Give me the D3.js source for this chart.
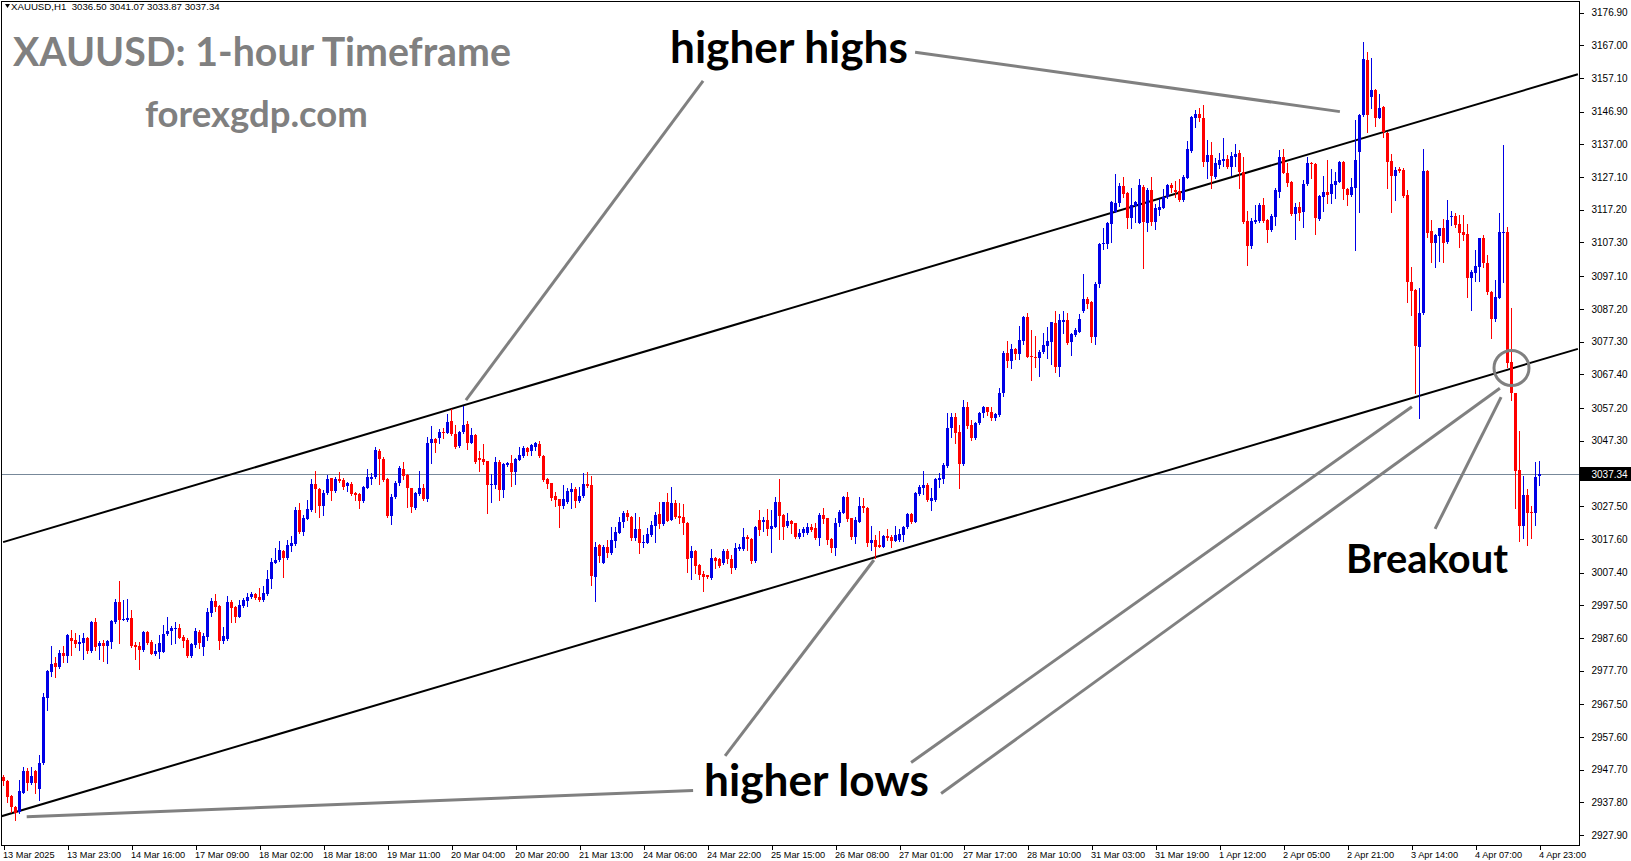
<!DOCTYPE html>
<html><head><meta charset="utf-8">
<script src="https://cdn.jsdelivr.net/npm/d3@7"></script>
<style>html,body{margin:0;padding:0;background:#fff;overflow:hidden}</style>
</head><body>
<svg id="chart" width="1631" height="861"></svg>
<script>
// ---------------- DATA ----------------
const opens = [
2945.4,2944.4,2939.8,2936.3,2935.0,2940.8,2947.3,2943.6,2947.3,2941.9,
2949.9,2969.5,2977.4,2980.0,2978.8,2983.0,2982.2,2987.6,2987.0,2985.9,
2986.2,2987.5,2983.5,2992.4,2985.3,2986.1,2985.2,2986.5,2992.3,2998.5,
2993.0,2993.0,2993.5,2985.5,2985.1,2984.0,2989.4,2986.4,2982.8,2983.3,
2983.4,2988.7,2989.7,2990.4,2990.6,2987.9,2987.1,2982.1,2985.6,2989.4,
2984.9,2988.0,2995.2,2998.8,2997.4,2986.8,2987.3,2998.4,2997.1,2994.0,
2997.4,2998.9,3000.0,3000.9,3000.1,2999.1,3000.9,3005.3,3010.4,3011.2,
3013.9,3011.7,3015.4,3016.0,3026.3,3019.8,3023.5,3026.3,3034.2,3032.7,
3027.5,3031.4,3035.9,3032.1,3035.7,3035.4,3033.6,3034.2,3031.6,3031.2,
3029.0,3033.1,3035.8,3036.2,3044.3,3041.9,3035.7,3024.5,3030.2,3034.4,
3038.7,3036.9,3032.9,3026.8,3031.2,3032.9,3029.6,3046.7,3047.8,3048.0,
3050.0,3049.7,3053.3,3049.2,3045.7,3049.8,3052.3,3046.7,3049.0,3042.2,
3041.8,3041.1,3033.9,3033.9,3040.9,3032.4,3039.9,3040.6,3037.7,3041.6,
3042.7,3045.0,3044.3,3045.5,3046.2,3042.7,3035.7,3034.4,3030.6,3029.6,
3027.5,3028.8,3031.9,3032.7,3029.0,3030.6,3034.1,3033.9,3006.1,3015.7,
3010.4,3015.0,3013.4,3017.0,3019.5,3022.7,3025.5,3024.3,3017.7,3020.6,
3016.2,3016.4,3018.8,3021.6,3025.1,3022.1,3028.7,3023.3,3028.3,3024.5,
3024.3,3022.5,3011.9,3014.0,3009.7,3006.9,3006.6,3005.7,3011.9,3011.5,
3010.2,3014.0,3011.6,3008.7,3014.4,3014.4,3018.2,3017.6,3011.0,3023.3,
3022.8,3023.3,3020.6,3021.3,3028.8,3024.8,3021.6,3023.0,3022.3,3018.3,
3019.4,3019.3,3021.3,3020.8,3017.8,3024.8,3023.8,3017.5,3014.9,3022.3,
3025.5,3030.3,3023.8,3018.1,3022.8,3027.5,3027.0,3016.4,3017.2,3015.7,
3015.2,3018.5,3018.3,3017.0,3017.2,3018.8,3021.1,3025.1,3022.8,3031.2,
3033.1,3033.9,3029.1,3029.3,3035.4,3035.8,3039.6,3051.0,3054.4,3049.8,
3040.2,3057.4,3052.1,3048.0,3052.6,3055.6,3057.4,3056.1,3054.1,3055.1,
3061.6,3073.9,3071.5,3075.1,3073.5,3077.6,3084.8,3072.9,3072.5,3072.3,
3074.0,3076.1,3077.3,3082.8,3069.7,3083.3,3083.8,3077.1,3079.3,3080.3,
3086.5,3090.2,3089.4,3078.8,3094.6,3106.7,3106.7,3113.0,3116.6,3119.1,
3124.4,3122.4,3114.8,3118.4,3113.3,3124.2,3113.3,3123.2,3113.6,3117.1,
3117.8,3121.2,3124.7,3123.2,3122.9,3120.2,3126.9,3135.0,3144.9,3146.2,
3144.9,3131.8,3133.8,3127.2,3130.7,3131.9,3132.6,3130.2,3133.3,3134.5,
3128.7,3113.8,3106.3,3113.6,3113.8,3118.6,3114.1,3111.1,3115.1,3122.7,
3133.1,3128.4,3125.7,3115.9,3117.9,3116.6,3125.0,3131.4,3131.0,3114.4,
3121.2,3122.5,3122.0,3124.7,3125.7,3131.8,3123.5,3121.7,3123.9,3134.8,
3145.9,3162.5,3151.4,3153.4,3145.1,3148.4,3140.5,3132.0,3127.5,3129.4,
3129.2,3121.7,3095.4,3092.9,3075.8,3085.8,3129.0,3110.8,3107.2,3109.3,
3111.6,3107.5,3114.9,3115.3,3112.9,3110.6,3109.9,3096.6,3098.2,3099.8,
3108.8,3101.0,3092.4,3084.0,3090.6,3110.1,3110.6,3071.2,3061.6,3038.4,
3021.5,3030.9,3025.8,3025.3,3036.50];
const highs = [
2946.1,2944.6,2940.0,2936.7,2944.6,2948.6,2948.2,2948.6,2947.6,2952.2,
2970.8,2977.9,2985.2,2981.7,2983.9,2985.2,2988.8,2990.0,2989.2,2988.6,
2989.2,2988.0,2992.8,2993.5,2986.8,2987.0,2987.0,2993.0,2999.3,3004.8,
2999.1,2999.3,2996.1,2986.5,2986.5,2989.8,2989.7,2986.9,2985.8,2988.5,
2991.5,2993.8,2991.2,2992.5,2991.8,2988.4,2987.5,2986.2,2990.5,2990.0,
2989.0,2996.6,2999.6,3000.9,2997.6,2991.0,3000.3,2999.1,2997.3,2999.1,
2999.6,3001.1,3001.6,3001.3,3002.6,3003.3,3008.2,3011.7,3014.7,3016.9,
3014.2,3017.2,3018.4,3027.3,3028.5,3024.8,3029.3,3035.8,3038.1,3033.1,
3032.4,3036.8,3036.1,3036.2,3037.7,3035.9,3034.7,3034.7,3031.8,3031.4,
3033.6,3038.6,3037.6,3045.5,3044.7,3042.5,3035.9,3031.2,3035.0,3039.5,
3040.9,3037.1,3033.1,3031.7,3038.1,3034.1,3048.5,3051.7,3048.0,3050.7,
3051.0,3055.4,3056.8,3052.0,3050.2,3057.8,3053.3,3051.2,3049.2,3044.2,
3046.2,3041.3,3037.1,3042.5,3041.5,3040.6,3040.9,3043.0,3042.0,3045.3,
3045.8,3045.5,3046.3,3047.0,3047.2,3042.9,3036.0,3034.6,3031.9,3029.8,
3033.9,3032.9,3034.4,3033.4,3033.4,3037.4,3037.9,3036.7,3016.7,3016.0,
3015.7,3017.3,3021.3,3021.3,3024.3,3026.1,3026.3,3024.5,3025.3,3024.3,
3018.8,3020.8,3023.1,3025.8,3028.8,3028.8,3031.4,3033.4,3029.4,3028.3,
3028.1,3022.6,3015.4,3014.2,3009.9,3007.9,3006.8,3014.4,3012.2,3011.7,
3014.4,3014.6,3012.7,3016.2,3016.0,3020.8,3018.8,3017.9,3021.5,3026.3,
3024.3,3026.5,3026.3,3030.4,3035.7,3025.0,3025.3,3023.3,3022.5,3020.5,
3021.1,3022.3,3022.0,3022.3,3025.5,3026.8,3024.0,3017.7,3023.8,3026.3,
3030.6,3031.9,3024.0,3024.3,3030.2,3029.9,3027.2,3021.5,3018.8,3020.0,
3018.8,3020.5,3018.8,3021.5,3020.5,3021.5,3025.5,3025.5,3031.9,3033.9,
3038.1,3034.4,3032.9,3035.9,3037.6,3040.6,3055.6,3055.6,3055.6,3052.0,
3059.6,3059.1,3053.6,3053.1,3056.1,3057.8,3057.6,3057.6,3055.8,3063.2,
3074.3,3077.5,3076.5,3075.3,3082.1,3085.1,3085.9,3080.8,3079.1,3074.7,
3079.8,3081.8,3083.3,3086.5,3085.5,3086.5,3085.9,3079.8,3081.3,3085.6,
3097.8,3090.9,3089.6,3095.4,3107.2,3111.6,3113.6,3119.9,3128.0,3125.2,
3127.2,3122.7,3123.7,3119.9,3126.5,3124.7,3123.7,3127.2,3118.8,3120.6,
3123.5,3125.0,3125.2,3125.9,3126.5,3127.7,3138.0,3145.7,3147.4,3147.9,
3148.9,3138.3,3137.8,3132.8,3134.3,3139.0,3133.8,3134.8,3137.2,3135.3,
3133.3,3116.8,3114.8,3118.6,3119.1,3120.7,3114.3,3115.8,3123.7,3135.3,
3135.6,3131.3,3126.0,3119.1,3119.4,3126.2,3133.3,3131.8,3131.2,3121.7,
3127.5,3132.3,3129.5,3128.5,3132.0,3132.0,3123.7,3126.9,3144.4,3146.1,
3167.9,3165.0,3163.0,3153.6,3152.1,3148.6,3140.7,3134.1,3130.2,3130.2,
3129.8,3123.2,3100.0,3093.1,3093.4,3135.6,3129.2,3114.1,3109.9,3111.8,
3114.3,3120.0,3116.9,3116.3,3115.6,3115.6,3112.9,3099.0,3105.0,3108.8,
3109.6,3103.5,3092.6,3095.9,3116.3,3136.8,3112.1,3087.4,3061.8,3050.2,
3036.6,3032.6,3027.5,3040.9,3041.07];
const lows = [
2943.1,2937.8,2935.0,2932.5,2934.7,2940.6,2941.6,2943.4,2940.8,2938.6,
2949.6,2965.8,2976.1,2975.9,2978.6,2980.4,2980.4,2982.4,2984.8,2983.9,
2981.2,2983.1,2983.2,2983.9,2981.1,2980.7,2980.1,2984.7,2992.0,2986.2,
2992.9,2992.8,2985.0,2981.3,2978.1,2983.7,2985.8,2982.6,2982.3,2981.4,
2983.2,2988.5,2985.8,2986.0,2987.5,2985.0,2981.9,2981.9,2985.0,2984.5,
2982.4,2987.0,2994.2,2995.8,2984.3,2986.0,2987.0,2992.5,2992.5,2993.8,
2997.1,2997.3,2999.6,2999.3,2998.9,2998.9,3000.7,3002.6,3010.2,3011.0,
3005.9,3011.5,3014.0,3015.7,3019.3,3018.8,3023.5,3026.1,3025.8,3024.3,
3024.8,3031.2,3029.3,3031.9,3034.9,3032.7,3032.2,3030.9,3029.3,3027.0,
3028.8,3032.9,3034.1,3035.9,3034.1,3035.2,3024.1,3022.1,3030.0,3034.0,
3035.7,3027.2,3025.6,3026.5,3030.9,3029.3,3029.0,3040.6,3044.0,3046.7,
3048.2,3049.5,3049.0,3045.0,3045.5,3049.5,3044.7,3046.5,3040.6,3038.1,
3040.2,3025.3,3028.8,3032.9,3029.3,3030.4,3039.7,3033.7,3034.1,3041.5,
3042.5,3043.0,3043.0,3044.5,3042.5,3035.1,3033.1,3029.3,3027.6,3021.3,
3026.8,3028.3,3026.8,3027.3,3028.8,3030.4,3033.4,3003.6,2998.8,3010.5,
3010.2,3012.2,3013.0,3015.0,3019.3,3021.3,3023.3,3017.3,3017.3,3013.4,
3015.0,3016.2,3018.5,3016.7,3020.8,3021.8,3023.0,3023.2,3024.0,3022.3,
3019.1,3007.7,3005.3,3007.4,3005.4,3001.9,3005.6,3005.3,3008.7,3009.0,
3010.0,3010.2,3007.2,3008.4,3014.2,3014.2,3014.2,3010.2,3010.7,3018.8,
3020.1,3018.8,3013.7,3021.1,3017.5,3017.5,3021.3,3019.3,3017.8,3018.0,
3018.5,3019.1,3020.1,3017.5,3015.7,3022.3,3016.0,3013.7,3012.7,3021.5,
3025.3,3023.1,3017.5,3016.2,3022.6,3025.8,3015.4,3014.2,3011.9,3015.0,
3015.0,3017.2,3015.2,3016.8,3017.0,3017.0,3020.9,3022.5,3022.6,3030.9,
3031.2,3029.1,3026.3,3029.1,3033.4,3034.4,3039.4,3048.5,3046.7,3033.1,
3039.9,3051.0,3047.5,3047.7,3052.4,3054.6,3055.1,3053.6,3053.6,3054.9,
3060.8,3069.7,3069.4,3072.0,3072.0,3076.5,3072.5,3065.7,3069.7,3067.0,
3073.7,3072.2,3070.5,3068.0,3067.0,3079.8,3076.5,3073.2,3079.1,3080.1,
3086.3,3087.6,3077.3,3076.5,3093.9,3105.3,3105.7,3107.3,3116.4,3118.4,
3121.2,3111.8,3111.8,3113.4,3113.1,3099.7,3110.8,3112.6,3111.4,3115.6,
3117.6,3120.9,3122.7,3121.2,3119.9,3119.9,3126.7,3134.8,3142.3,3144.0,
3130.3,3126.7,3123.9,3126.7,3129.9,3130.4,3129.9,3127.7,3130.5,3123.7,
3113.1,3100.5,3105.5,3113.1,3113.6,3113.6,3107.5,3110.8,3112.6,3121.2,
3128.2,3124.5,3115.6,3108.3,3114.1,3112.1,3124.7,3126.9,3109.9,3114.1,
3116.8,3119.1,3119.1,3120.7,3125.5,3120.5,3118.6,3121.5,3105.0,3116.6,
3145.7,3140.6,3148.1,3142.4,3144.9,3139.3,3123.9,3116.4,3120.2,3128.5,
3121.2,3089.4,3085.3,3061.8,3054.1,3085.6,3109.1,3101.5,3099.8,3101.8,
3101.5,3107.0,3112.6,3111.9,3105.8,3108.1,3090.9,3086.9,3095.7,3095.7,
3100.0,3091.7,3078.3,3083.6,3090.4,3095.4,3069.7,3059.6,3026.8,3016.8,
3017.8,3015.7,3017.8,3021.8,3033.87];
const closes = [
2944.3,2939.6,2936.5,2934.5,2941.3,2947.3,2943.6,2945.8,2943.6,2949.9,
2969.8,2977.6,2979.6,2978.8,2983.0,2982.1,2988.5,2986.7,2985.8,2986.4,
2987.5,2983.5,2992.5,2984.9,2986.1,2985.2,2986.8,2992.8,2998.5,2993.0,
2993.3,2993.5,2985.3,2984.9,2984.1,2989.5,2986.1,2982.8,2983.6,2986.1,
2988.8,2989.7,2990.6,2990.6,2987.7,2986.8,2982.1,2985.9,2989.7,2986.0,
2988.2,2995.5,2998.8,2997.1,2986.8,2988.2,2998.4,2996.8,2994.0,2997.6,
2999.1,3000.1,3000.9,2999.6,2999.1,3001.1,3005.3,3010.5,3011.2,3014.2,
3011.7,3015.6,3016.2,3026.3,3019.8,3023.9,3026.5,3034.1,3032.7,3027.5,
3031.6,3035.6,3032.1,3035.7,3035.1,3033.4,3034.4,3031.2,3030.9,3029.0,
3033.4,3036.2,3036.4,3044.5,3041.9,3035.4,3024.5,3030.4,3034.6,3038.9,
3036.7,3033.1,3027.3,3031.4,3032.9,3029.6,3046.7,3047.8,3046.7,3049.8,
3049.7,3052.9,3049.2,3045.5,3049.8,3052.0,3046.7,3049.0,3041.0,3041.5,
3040.9,3033.9,3034.2,3040.9,3032.4,3040.2,3040.6,3037.7,3041.8,3043.0,
3045.0,3043.8,3046.0,3046.5,3042.7,3035.4,3034.1,3030.0,3029.3,3027.5,
3029.6,3032.1,3032.7,3029.0,3030.6,3034.1,3033.6,3006.3,3015.2,3012.5,
3015.0,3013.4,3017.3,3019.8,3022.8,3025.5,3024.3,3018.0,3020.6,3016.2,
3016.7,3019.1,3021.8,3024.8,3022.1,3028.7,3023.1,3028.3,3024.3,3024.0,
3022.3,3011.6,3014.0,3009.4,3006.6,3006.1,3005.9,3011.8,3011.0,3009.4,
3014.0,3011.5,3008.9,3014.7,3015.0,3018.2,3017.4,3011.0,3021.3,3020.4,
3023.3,3020.5,3021.5,3028.8,3024.6,3021.3,3023.0,3022.1,3018.3,3019.5,
3020.5,3021.3,3020.3,3017.8,3024.8,3023.5,3017.2,3014.9,3022.3,3025.8,
3030.3,3023.5,3018.1,3023.3,3027.5,3026.8,3016.4,3017.2,3015.2,3015.2,
3018.5,3017.8,3017.0,3018.8,3019.1,3021.1,3025.1,3022.8,3031.4,3033.2,
3033.9,3029.3,3029.9,3035.6,3036.1,3039.9,3051.0,3054.4,3049.7,3040.2,
3057.6,3051.8,3048.0,3052.6,3055.6,3057.6,3055.9,3054.3,3055.4,3061.6,
3073.9,3071.5,3075.1,3073.5,3077.8,3084.8,3072.7,3072.5,3072.3,3074.2,
3076.3,3077.5,3083.1,3069.7,3083.8,3083.8,3077.0,3079.6,3080.8,3084.1,
3090.2,3088.7,3078.8,3094.6,3106.8,3107.2,3113.2,3119.6,3119.3,3124.5,
3122.0,3114.8,3118.6,3119.6,3124.7,3113.4,3123.2,3113.6,3117.8,3118.1,
3121.2,3124.7,3123.9,3122.7,3120.2,3127.2,3135.6,3145.4,3146.2,3145.0,
3131.8,3133.8,3127.5,3131.2,3132.3,3132.6,3130.2,3133.5,3134.1,3128.5,
3113.4,3106.3,3113.8,3114.1,3118.6,3113.8,3111.1,3115.3,3123.2,3133.1,
3128.4,3125.4,3115.9,3117.9,3116.3,3125.0,3131.4,3130.9,3114.6,3121.4,
3122.5,3121.7,3125.0,3125.9,3131.8,3123.5,3121.7,3124.2,3132.3,3145.9,
3162.8,3145.9,3153.4,3145.1,3148.1,3140.8,3131.8,3127.5,3129.2,3129.0,
3121.5,3095.4,3092.7,3075.9,3086.1,3129.0,3110.1,3107.2,3109.6,3111.6,
3107.2,3114.1,3115.3,3112.6,3110.3,3109.6,3096.6,3098.5,3100.2,3108.5,
3101.0,3092.4,3084.0,3090.7,3110.4,3110.6,3070.7,3061.6,3038.2,3021.5,
3030.9,3025.5,3025.3,3036.4,3037.34];

const timeLabels = ["13 Mar 2025","13 Mar 23:00","14 Mar 16:00","17 Mar 09:00","18 Mar 02:00",
  "18 Mar 18:00","19 Mar 11:00","20 Mar 04:00","20 Mar 20:00","21 Mar 13:00","24 Mar 06:00",
  "24 Mar 22:00","25 Mar 15:00","26 Mar 08:00","27 Mar 01:00","27 Mar 17:00","28 Mar 10:00",
  "31 Mar 03:00","31 Mar 19:00","1 Apr 12:00","2 Apr 05:00","2 Apr 21:00","3 Apr 14:00",
  "4 Apr 07:00","4 Apr 23:00"];
const barsPerTimeLabel = 16;
const priceTicks = [3176.90,3167.00,3157.10,3146.90,3137.00,3127.10,3117.20,3107.30,3097.10,
  3087.20,3077.30,3067.40,3057.20,3047.30,3027.50,3017.60,3007.40,2997.50,2987.60,2977.70,
  2967.50,2957.60,2947.70,2937.80,2927.90];
const bidPrice = 3037.34;
const headerText = "XAUUSD,H1  3036.50 3041.07 3033.87 3037.34";

// channel lines: [barIndex, price] anchors
const channelUpper = [[-0.1, 3016.6], [393.6, 3158.2]];
const channelLower = [[-0.9, 2933.5], [393.6, 3075.1]];
// pointer lines (grey): [barIndex, price] from -> to
const pointerLines = [
  [[227.9, 3164.9], [334.1, 3146.9]],
  [[174.9, 3156.2], [115.6, 3059.6]],
  [[180.4, 2951.9], [217.6, 3011.2]],
  [[226.9, 2949.9], [352.1, 3057.6]],
  [[234.4, 2940.5], [374.1, 3063.2]],
  [[5.8, 2933.5], [172.4, 2941.4]],
  [[357.9, 3020.6], [374.4, 3060.5]]
];
const breakoutCircle = [377.0, 3069.3];

// ---------------- DRAW ----------------
const W = 1631, H = 861;
const plot = {left: 1.5, top: 1.5, right: 1579.5, bottom: 845.5};
const svg = d3.select("#chart");
const x = d3.scaleLinear().domain([0, 384]).range([3.5, 1539.5]);
const y = d3.scaleLinear().domain([2927.9, 3176.9]).range([835.2, 12.5]);

svg.append("rect").attr("width", W).attr("height", H).attr("fill", "#fff");

svg.append("defs").append("clipPath").attr("id", "plotclip")
  .append("rect").attr("x", plot.left).attr("y", plot.top)
  .attr("width", plot.right - plot.left).attr("height", plot.bottom - plot.top);

const g = svg.append("g").attr("clip-path", "url(#plotclip)");

// bid line
g.append("line").attr("x1", plot.left).attr("x2", plot.right)
  .attr("y1", Math.round(y(bidPrice)) + 0.5).attr("y2", Math.round(y(bidPrice)) + 0.5)
  .attr("stroke", "#778899").attr("stroke-width", 1);

// channel lines
const lineGen = d3.line().x(d => x(d[0])).y(d => y(d[1]));
[channelUpper, channelLower].forEach(l => {
  g.append("path").attr("d", lineGen(l)).attr("fill", "none")
    .attr("stroke", "#000").attr("stroke-width", 2);
});

// candles
const candles = d3.range(opens.length).map(i => ({i, o: opens[i], h: highs[i], l: lows[i], c: closes[i]}));
const UP = "#0000e6", DOWN = "#ff0000";
const cg = g.append("g").attr("shape-rendering", "crispEdges");
cg.selectAll("line.wick").data(candles).enter().append("line")
  .attr("x1", d => x(d.i)).attr("x2", d => x(d.i))
  .attr("y1", d => Math.round(y(d.h))).attr("y2", d => Math.round(y(d.l)) + 1)
  .attr("stroke", d => d.c >= d.o ? UP : DOWN).attr("stroke-width", 1);
cg.selectAll("rect.body").data(candles).enter().append("rect")
  .attr("x", d => x(d.i) - 1.5).attr("width", 3)
  .attr("y", d => Math.round(y(Math.max(d.o, d.c))))
  .attr("height", d => Math.max(1, Math.round(y(Math.min(d.o, d.c))) - Math.round(y(Math.max(d.o, d.c)))))
  .attr("fill", d => d.c >= d.o ? UP : DOWN);

// pointer lines
pointerLines.forEach(l => {
  g.append("path").attr("d", lineGen(l)).attr("fill", "none")
    .attr("stroke", "#808080").attr("stroke-width", 3);
});
g.append("circle").attr("cx", x(breakoutCircle[0])).attr("cy", y(breakoutCircle[1]))
  .attr("r", 17.5).attr("fill", "none").attr("stroke", "#808080").attr("stroke-width", 3);

// frame
svg.append("rect").attr("x", plot.left).attr("y", plot.top)
  .attr("width", plot.right - plot.left).attr("height", plot.bottom - plot.top)
  .attr("fill", "none").attr("stroke", "#000").attr("stroke-width", 1);

// price axis
const yAxis = d3.axisRight(y).tickValues(priceTicks).tickFormat(d3.format(".2f"))
  .tickSize(4).tickSizeOuter(0).tickPadding(8);
const ya = svg.append("g").attr("transform", `translate(${plot.right},0)`).call(yAxis);
ya.select(".domain").remove();
ya.selectAll(".tick line").attr("stroke", "#000").attr("shape-rendering", "crispEdges");
ya.selectAll(".tick text").attr("font-family", "Liberation Sans, Arial, sans-serif")
  .attr("font-size", 10).attr("fill", "#000");

// bid label
const by = Math.round(y(bidPrice));
svg.append("rect").attr("x", plot.right + 0.5).attr("y", by - 7).attr("width", W - plot.right).attr("height", 14)
  .attr("fill", "#000");
svg.append("text").attr("x", plot.right + 12).attr("y", by).attr("dy", "0.35em")
  .attr("font-family", "Liberation Sans, Arial, sans-serif").attr("font-size", 10).attr("fill", "#fff")
  .text(bidPrice.toFixed(2));

// time axis
const tickIdx = d3.range(0, opens.length, barsPerTimeLabel);
const xAxis = d3.axisBottom(x).tickValues(tickIdx).tickFormat((d, i) => timeLabels[i])
  .tickSize(4).tickSizeOuter(0).tickPadding(2);
const xa = svg.append("g").attr("transform", `translate(0,${plot.bottom})`).call(xAxis);
xa.select(".domain").remove();
xa.selectAll(".tick line").attr("stroke", "#000").attr("shape-rendering", "crispEdges");
xa.selectAll(".tick text").attr("text-anchor", "start").attr("x", -1)
  .attr("font-family", "Liberation Sans, Arial, sans-serif").attr("font-size", 9.2).attr("fill", "#000");

// texts
function fitText(sel, targetWidth) {
  const w = sel.node().getComputedTextLength();
  const fs = parseFloat(sel.attr("font-size"));
  sel.attr("font-size", fs * targetWidth / w);
  return sel;
}
svg.append("path").attr("d", "M5,4 L10,4 L7.5,8 Z").attr("fill", "#000");
fitText(svg.append("text").attr("x", 11).attr("y", 10).attr("font-family", "Liberation Sans, Arial, sans-serif")
  .attr("font-size", 9).attr("fill", "#000").attr("xml:space", "preserve").text(headerText), 209);

fitText(svg.append("text").attr("x", 13).attr("y", 66).attr("font-family", "Lato, sans-serif")
  .attr("font-weight", "bold").attr("font-size", 32).attr("fill", "#808080")
  .text("XAUUSD: 1-hour Timeframe"), 498);
fitText(svg.append("text").attr("x", 145).attr("y", 127).attr("font-family", "Lato, sans-serif")
  .attr("font-weight", "bold").attr("font-size", 32).attr("fill", "#808080")
  .text("forexgdp.com"), 223);

fitText(svg.append("text").attr("x", 670).attr("y", 63).attr("font-family", "Lato, sans-serif")
  .attr("font-weight", "bold").attr("font-size", 38).attr("fill", "#000")
  .text("higher highs"), 238);
fitText(svg.append("text").attr("x", 704).attr("y", 796).attr("font-family", "Lato, sans-serif")
  .attr("font-weight", "bold").attr("font-size", 38).attr("fill", "#000")
  .text("higher lows"), 225);
fitText(svg.append("text").attr("x", 1346).attr("y", 573).attr("font-family", "Lato, sans-serif")
  .attr("font-weight", "bold").attr("font-size", 38).attr("fill", "#000")
  .text("Breakout"), 162);
</script>
</body></html>
